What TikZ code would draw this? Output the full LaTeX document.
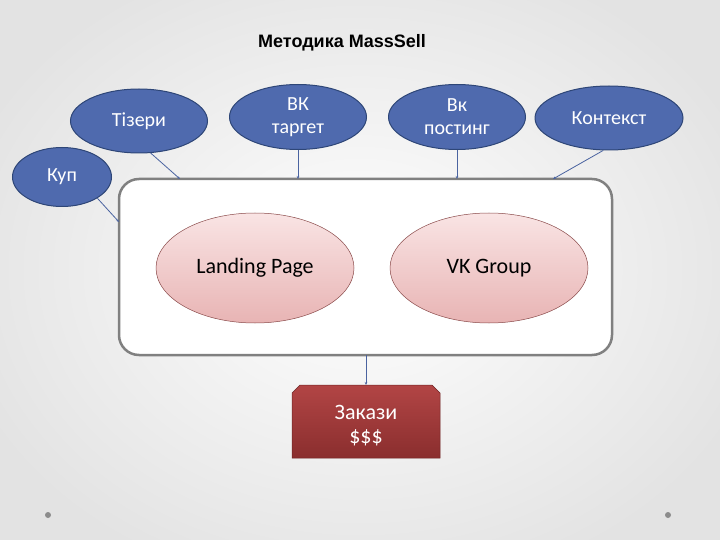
\documentclass[tikz,border=0pt]{standalone}
\usepackage{fontspec}
\setmainfont{Carlito}
\newfontfamily\titlefont{Liberation Sans}
\usetikzlibrary{shapes.geometric,shapes.misc,arrows.meta}
\definecolor{bluefill}{HTML}{4F6AAE}
\definecolor{blueedge}{HTML}{2E4677}
\definecolor{linkc}{HTML}{4A63A0}
\definecolor{frame}{HTML}{808080}
\definecolor{pinktop}{HTML}{F9E4E4}
\definecolor{pinkbot}{HTML}{E8B4B4}
\definecolor{pinkedge}{HTML}{8A4A4A}
\definecolor{redtop}{HTML}{B24545}
\definecolor{redbot}{HTML}{8A2E2E}
\tikzset{
  srcnode/.style={ellipse, fill=bluefill, draw=blueedge, line width=1pt, text=white,
    font=\fontsize{20}{23}\selectfont, align=center, inner sep=0pt},
  pinknode/.style={ellipse, draw=pinkedge, line width=0.5pt, top color=pinktop, bottom color=pinkbot,
    font=\fontsize{22}{22}\selectfont, inner sep=0pt, minimum width=198pt, minimum height=110pt},
  link/.style={draw=linkc, line width=0.8pt, -{Stealth[length=3pt,width=2.5pt]}},
}
\begin{document}
\begin{tikzpicture}[x=1pt,y=-1pt]
\useasboundingbox (0,0) rectangle (720,540);
\shade[inner color=white, outer color=black!11] (-60,-60) rectangle (780,600);
\node[font=\titlefont\bfseries\fontsize{18}{18}\selectfont] (title) at (342,43) {Методика MassSell};
% container
\draw[frame, line width=2.5pt, fill=white, rounded corners=20pt] (119,179) rectangle (612,355);
\coordinate (boxtl) at (180,179);
\coordinate (boxt1) at (298,179);
\coordinate (boxt2) at (457,179);
\coordinate (boxtr) at (553,179);
\coordinate (boxl) at (119,222);
\coordinate (boxb) at (366,355);
% source ellipses
\node[srcnode, minimum width=137pt, minimum height=64pt] (tizery) at (139,121) {Тізери};
\node[srcnode, minimum width=137pt, minimum height=65pt] (vkt) at (298,117) {ВК\\таргет};
\node[srcnode, minimum width=137pt, minimum height=65pt] (vkp) at (457,117) {Вк\\постинг};
\node[srcnode, minimum width=148pt, minimum height=64pt] (kontekst) at (609,118) {Контекст};
\node[srcnode, minimum width=99pt, minimum height=59pt] (kup) at (62,177) {Куп};
% inner ellipses
\node[pinknode] (landing) at (255,268) {Landing Page};
\node[pinknode] (vkg) at (489,268) {VK Group};
% order box
\shade[top color=redtop, bottom color=redbot, draw=redbot!80!black, line width=0.5pt]
  (292,458) -- (292,393) -- (300,385) -- (432,385) -- (440,393) -- (440,458) -- cycle;
\coordinate (ordtop) at (366,385);
\node[text=white, align=center, font=\fontsize{22}{24}\selectfont] (orders) at (366,426) {Закази\\\$\$\$};
% connectors
\draw[link] (tizery.-70) -- (boxtl);
\draw[link] (vkt.south) -- (boxt1);
\draw[link] (vkp.south) -- (boxt2);
\draw[link] (kontekst.-100) -- (boxtr);
\draw[link] (kup.south east) -- (boxl);
\draw[link] (boxb) -- (ordtop);
% decorative dots
\fill[black!45] (48,515) circle (3pt);
\fill[black!45] (668,515) circle (3pt);
\end{tikzpicture}
\end{document}
